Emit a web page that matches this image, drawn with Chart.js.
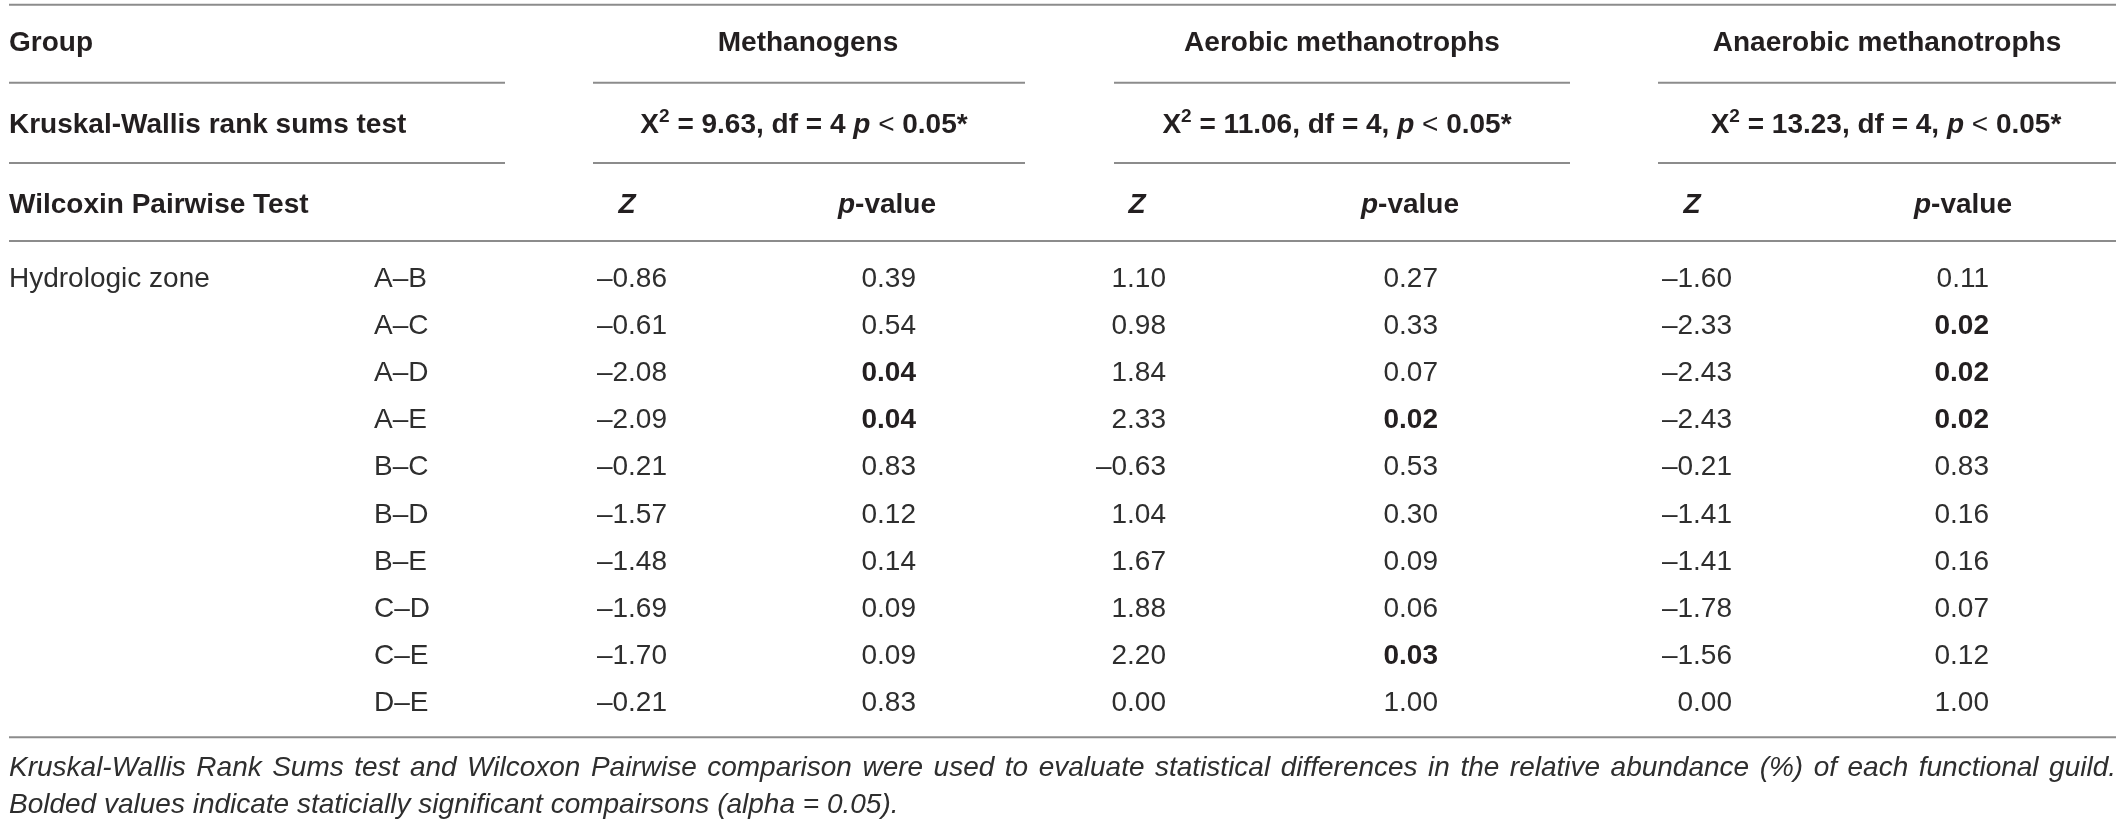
<!DOCTYPE html>
<html>
<head>
<meta charset="utf-8">
<script src="https://cdn.jsdelivr.net/npm/chart.js@4/dist/chart.umd.min.js"></script>
<style>
html,body{margin:0;padding:0;background:#fff;overflow:hidden}
canvas{display:block}
</style>
</head>
<body>
<canvas id="c" width="2121" height="823"></canvas>
<script>
// ---------------- DATA ----------------
const groupTitle = 'Group';
const guilds = ['Methanogens', 'Aerobic methanotrophs', 'Anaerobic methanotrophs'];
const kwTitle = 'Kruskal-Wallis rank sums test';
const chiSq = [9.63, 11.06, 13.23];
const dfs = [4, 4, 4];
const kwSep = [' ', ', ', ', '];
const kwP = '0.05*';
const wilcoxTitle = 'Wilcoxin Pairwise Test';
const factorName = 'Hydrologic zone';
const comparisons = ['A–B', 'A–C', 'A–D', 'A–E', 'B–C', 'B–D', 'B–E', 'C–D', 'C–E', 'D–E'];
const methZ = [-0.86, -0.61, -2.08, -2.09, -0.21, -1.57, -1.48, -1.69, -1.70, -0.21];
const methP = [0.39, 0.54, 0.04, 0.04, 0.83, 0.12, 0.14, 0.09, 0.09, 0.83];
const aerZ  = [1.10, 0.98, 1.84, 2.33, -0.63, 1.04, 1.67, 1.88, 2.20, 0.00];
const aerP  = [0.27, 0.33, 0.07, 0.02, 0.53, 0.30, 0.09, 0.06, 0.03, 1.00];
const anZ   = [-1.60, -2.33, -2.43, -2.43, -0.21, -1.41, -1.41, -1.78, -1.56, 0.00];
const anP   = [0.11, 0.02, 0.02, 0.02, 0.83, 0.16, 0.16, 0.07, 0.12, 1.00];
const alpha = 0.05;
const captionLines = [
  'Kruskal-Wallis Rank Sums test and Wilcoxon Pairwise comparison were used to evaluate statistical differences in the relative abundance (%) of each functional guild.',
  'Bolded values indicate staticially significant compairsons (alpha = 0.05).'
];

// ---------------- LAYOUT (x in px units, y in row units) ----------------
const FONT = '"Liberation Sans", Arial, Helvetica, sans-serif';
const INK = '#231f20';
const INK_LIGHT = '#2e2e2e';
const RULE = '#8c8c8c';
const SIZE = 28;
const LEFT = 9, RIGHT = 2116;
const sectionCenters = [808, 1342, 1887];
const statCenters = [804, 1337, 1886];
const sectionSpans = [[LEFT, 505], [593, 1025], [1114, 1570], [1658, RIGHT]];
const zHeadX = [627, 1137, 1692];
const pHeadX = [887, 1410, 1963];
const valueRightX = [667, 916, 1166, 1438, 1732, 1989];
const compX = 374;
const rowY = { head: -5.0, kw: -3.27, wil: -1.57, cap1: 10.38, cap2: 11.17 };
const ruleY = { top: -5.78, r1: -4.125, r2: -2.42, r3: -0.764, bottom: 9.77 };

function fmt(v) { return (v < 0 ? '\u2013' : '') + Math.abs(v).toFixed(2); }

// ---------------- DATASETS ----------------
const datasets = [];
function textSet(points, texts, style) {
  datasets.push({
    type: 'scatter', data: points, pointRadius: 0, pointHoverRadius: 0,
    borderWidth: 0, backgroundColor: 'rgba(0,0,0,0)',
    table: Object.assign({ texts: texts, align: 'left', size: SIZE, w: 'normal', it: false, color: INK_LIGHT }, style)
  });
}
function rule(x1, x2, y) {
  datasets.push({
    type: 'line', data: [{ x: x1, y: y }, { x: x2, y: y }],
    borderColor: RULE, borderWidth: 2, pointRadius: 0, fill: false, tension: 0
  });
}

// rules
rule(LEFT, RIGHT, ruleY.top);
sectionSpans.forEach(s => { rule(s[0], s[1], ruleY.r1); rule(s[0], s[1], ruleY.r2); });
rule(LEFT, RIGHT, ruleY.r3);
rule(LEFT, RIGHT, ruleY.bottom);

// header rows
textSet([{ x: LEFT, y: rowY.head }], [groupTitle], { w: 'bold', color: INK });
textSet(guilds.map((g, i) => ({ x: sectionCenters[i], y: rowY.head })), guilds, { w: 'bold', align: 'center', color: INK });
textSet([{ x: LEFT, y: rowY.kw }], [kwTitle], { w: 'bold', color: INK });
textSet(chiSq.map((c, i) => ({ x: statCenters[i], y: rowY.kw })),
  chiSq.map((c, i) => [
    { t: 'X' }, { t: '2', sup: true },
    { t: ' = ' + c.toFixed(2) + ', df = ' + dfs[i] + kwSep[i] },
    { t: 'p', it: true }, { t: ' ' }, { t: '<', w: 'normal' }, { t: ' ' + kwP }
  ]), { w: 'bold', align: 'center', color: INK });
textSet([{ x: LEFT, y: rowY.wil }], [wilcoxTitle], { w: 'bold', color: INK });
textSet(zHeadX.map(x => ({ x: x, y: rowY.wil })), zHeadX.map(() => [{ t: 'Z', it: true }]), { w: 'bold', align: 'center', color: INK });
textSet(pHeadX.map(x => ({ x: x, y: rowY.wil })), pHeadX.map(() => [{ t: 'p', it: true }, { t: '-value' }]), { w: 'bold', align: 'center', color: INK });

// body
textSet([{ x: LEFT, y: 0 }], [factorName], {});
textSet(comparisons.map((c, i) => ({ x: compX, y: i })), comparisons, {});
const valueCols = [methZ, methP, aerZ, aerP, anZ, anP];
valueCols.forEach((col, k) => {
  const isP = k % 2 === 1;
  textSet(col.map((v, i) => ({ x: valueRightX[k], y: i })),
    col.map(v => [{ t: fmt(v), w: (isP && v < alpha) ? 'bold' : 'normal', color: (isP && v < alpha) ? INK : null }]),
    { align: 'right' });
});

// caption
textSet([{ x: LEFT, y: rowY.cap1 }], [captionLines[0]], { it: true, justifyTo: RIGHT });
textSet([{ x: LEFT, y: rowY.cap2 }], [captionLines[1]], { it: true });

// ---------------- DRAWING ----------------
function fontStr(seg, base) {
  const it = seg.it !== undefined ? seg.it : base.it;
  const w = seg.w || base.w;
  const size = seg.sup ? base.size * 0.68 : base.size;
  return (it ? 'italic ' : '') + w + ' ' + size + 'px ' + FONT;
}
function drawRich(ctx, chart, text, x, y, base) {
  const segs = Array.isArray(text) ? text : [{ t: String(text) }];
  const baseY = y + base.size * 0.358;
  if (base.justifyTo !== undefined) {
    const words = segs.map(s => s.t).join('').split(' ');
    ctx.font = fontStr({}, base);
    const ws = words.map(w => ctx.measureText(w).width);
    const target = chart.scales.x.getPixelForValue(base.justifyTo) - x;
    const sum = ws.reduce((a, b) => a + b, 0);
    const gap = (target - sum) / (words.length - 1);
    let cx = x;
    ctx.fillStyle = base.color;
    words.forEach((w, i) => { ctx.fillText(w, cx, baseY); cx += ws[i] + gap; });
    return;
  }
  const widths = segs.map(s => { ctx.font = fontStr(s, base); return ctx.measureText(s.t).width; });
  const total = widths.reduce((a, b) => a + b, 0);
  let cx = base.align === 'center' ? x - total / 2 : base.align === 'right' ? x - total : x;
  segs.forEach((s, i) => {
    ctx.font = fontStr(s, base);
    ctx.fillStyle = s.color || base.color;
    ctx.fillText(s.t, cx, baseY - (s.sup ? base.size * 0.40 : 0));
    cx += widths[i];
  });
}
const tablePlugin = {
  id: 'tableText',
  afterDatasetsDraw(chart) {
    const ctx = chart.ctx;
    ctx.save();
    ctx.textBaseline = 'alphabetic';
    ctx.textAlign = 'left';
    chart.data.datasets.forEach((ds, i) => {
      if (!ds.table) return;
      const meta = chart.getDatasetMeta(i);
      meta.data.forEach((el, j) => {
        drawRich(ctx, chart, ds.table.texts[j], el.x, el.y, ds.table);
      });
    });
    ctx.restore();
  }
};

new Chart(document.getElementById('c').getContext('2d'), {
  type: 'scatter',
  data: { datasets: datasets },
  options: {
    responsive: false,
    animation: false,
    devicePixelRatio: 1,
    events: [],
    layout: { padding: 0 },
    plugins: { legend: { display: false }, tooltip: { enabled: false } },
    scales: {
      x: { type: 'linear', display: false, min: 0, max: 2121 },
      y: { type: 'linear', display: false, min: -5.88, max: 11.59, reverse: true }
    }
  },
  plugins: [tablePlugin]
});
</script>
</body>
</html>
